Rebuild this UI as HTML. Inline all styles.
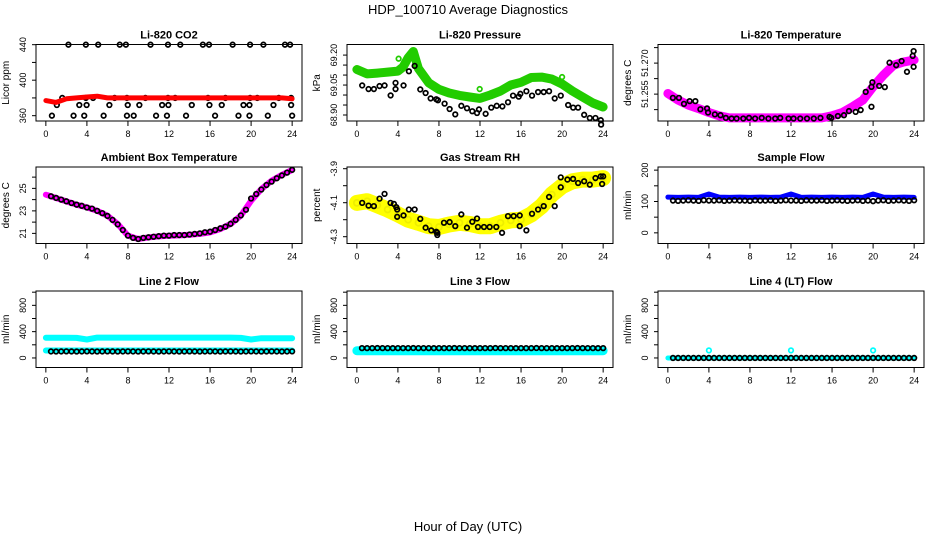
<!DOCTYPE html>
<html><head><meta charset="utf-8">
<style>
body{margin:0;background:#fff;}
svg{display:block;font-family:"Liberation Sans",sans-serif;}
</style></head>
<body>
<svg id="chart" width="936" height="540" viewBox="0 0 936 540">
<text x="468" y="14" font-size="13" text-anchor="middle">HDP_100710  Average Diagnostics</text>
<text x="468" y="531" font-size="13" text-anchor="middle">Hour of Day (UTC)</text>
</svg>
<script>
const HOURS = [0,1,2,3,4,5,6,7,8,9,10,11,12,13,14,15,16,17,18,19,20,21,22,23,24];
const HALF = [0.5,1,1.5,2,2.5,3,3.5,4,4.5,5,5.5,6,6.5,7,7.5,8,8.5,9,9.5,10,10.5,11,11.5,12,12.5,13,13.5,14,14.5,15,15.5,16,16.5,17,17.5,18,18.5,19,19.5,20,20.5,21,21.5,22,22.5,23,23.5,24];
const X_TICKS = [0,4,8,12,16,20,24];

// CO2
const co2Red = [377,375,379,380,381,382,380,380,380,380,380,380,380,380,380,380,380,380,380,380,380,380,380,380,379];
const co2H440 = [2.2,3.9,5.1,7.2,7.8,10.2,11.9,13.1,15.3,15.9,18.2,19.9,21.2,23.3,23.8];
const co2H380 = [1.6,3.9,4.6,6.7,7.9,9.7,11.9,12.6,15.8,17.5,19.9,20.6,22.7,23.9];
const co2H372 = [1.07,3.26,3.97,6.19,7.98,9.11,11.33,11.94,14.22,15.94,17.14,19.26,19.84,22.18,23.9];
const co2H360 = [0.59,2.7,3.74,5.63,7.9,8.56,10.74,11.8,13.66,16.49,18.77,19.84,21.63,24.0];

// Pressure
const presHours = [0,1,2,3,4,4.5,5,5.5,6,7,8,9,10,11,12,13,14,15,16,17,18,19,20,21,22,23,24];
const presGreen = [69.128,69.106,69.11,69.115,69.12,69.14,69.187,69.218,69.133,69.061,69.028,69.01,68.998,68.99,68.983,69.0,69.02,69.05,69.064,69.088,69.09,69.08,69.055,69.02,68.99,68.96,68.94];
const presGreenOutH = [4.07,11.97,20.0];
const presGreenOutV = [69.182,69.03,69.09];
const presBlackH = [0.52,1.14,1.66,2.21,2.7,3.29,3.77,3.77,4.55,5.07,5.63,6.18,6.7,7.19,7.74,7.9,8.55,9.04,9.59,10.18,10.73,11.25,11.71,11.9,12.55,13.1,13.63,14.18,14.73,15.22,15.77,15.93,16.52,17.07,17.66,18.21,18.73,19.28,19.87,20.59,21.08,21.56,22.15,22.7,23.25,23.77,23.8];
const presBlackV = [69.048,69.03,69.03,69.045,69.048,68.998,69.061,69.03,69.048,69.119,69.146,69.028,69.01,68.983,68.979,68.974,68.957,68.93,68.903,68.946,68.934,68.919,68.91,68.928,68.906,68.937,68.946,68.943,68.964,68.997,68.992,69.006,69.019,68.997,69.015,69.015,69.019,68.983,68.997,68.95,68.937,68.937,68.901,68.885,68.885,68.874,68.852];

// Li-820 temperature
const tempMag = [51.2553,51.2521,51.2497,51.248,51.2461,51.2445,51.2435,51.2435,51.2435,51.2435,51.2435,51.2435,51.2435,51.2435,51.2435,51.2435,51.2445,51.2461,51.2489,51.2521,51.2586,51.2642,51.269,51.2706,51.2715];
const tempBlackH = [0.49,1.08,1.57,2.12,2.68,3.17,3.82,3.92,4.58,5.13,5.65,6.21,6.7,7.35,7.91,8.5,9.15,9.8,10.46,10.95,11.76,12.25,12.9,13.56,14.22,14.87,15.75,15.92,16.57,17.16,17.65,18.3,18.79,19.28,19.84,19.84,19.93,20.59,21.14,21.6,22.25,22.78,23.3,23.86,23.95,23.95];
const tempBlackV = [51.2532,51.2532,51.2503,51.2516,51.2516,51.2477,51.2481,51.2461,51.2452,51.2448,51.2435,51.2432,51.2432,51.2432,51.2435,51.2432,51.2435,51.2432,51.2432,51.2435,51.2432,51.2432,51.2432,51.2432,51.2432,51.2435,51.244,51.2435,51.2444,51.2448,51.2468,51.2464,51.2473,51.2561,51.2489,51.2585,51.2607,51.259,51.2584,51.2702,51.269,51.271,51.2658,51.2735,51.2758,51.2682];
const tempTicks = [51.2475,51.255,51.2625,51.27,51.2775];
const tempLabels = ["","51.255","","51.270",""];

// Ambient
const ambMag = [24.44,24.14,23.84,23.55,23.31,23.01,22.57,21.83,20.79,20.5,20.64,20.73,20.79,20.82,20.88,20.95,21.09,21.39,21.83,22.57,23.9,24.94,25.68,26.21,26.63];
const ambBlack = [24.3,24.15,24.0,23.85,23.7,23.55,23.45,23.3,23.2,23.0,22.8,22.55,22.2,21.8,21.3,20.8,20.6,20.5,20.6,20.65,20.7,20.75,20.8,20.8,20.85,20.85,20.85,20.9,20.95,21.0,21.1,21.15,21.3,21.45,21.6,21.85,22.2,22.6,23.1,24.1,24.5,24.9,25.3,25.6,25.9,26.15,26.4,26.65];

// Gas stream RH
const rhYellow = [-4.101,-4.091,-4.115,-4.14,-4.169,-4.2,-4.218,-4.238,-4.243,-4.228,-4.218,-4.225,-4.238,-4.238,-4.218,-4.204,-4.2,-4.169,-4.12,-4.052,-4.003,-3.974,-3.964,-3.964,-3.955];
const rhBlackH = [0.52,1.14,1.66,2.21,2.7,3.28,3.61,3.84,3.93,3.93,4.55,5.07,5.63,6.18,6.7,7.25,7.74,7.84,7.84,8.49,9.04,9.59,10.18,10.73,11.25,11.71,11.8,12.39,12.94,13.59,14.15,14.73,15.28,15.87,15.87,16.52,17.07,17.66,18.21,18.73,19.28,19.87,19.87,20.52,21.07,21.56,22.15,22.7,23.25,23.77,24.0,23.9];
const rhBlackV = [-4.101,-4.117,-4.12,-4.076,-4.048,-4.101,-4.107,-4.126,-4.14,-4.183,-4.175,-4.14,-4.14,-4.195,-4.247,-4.263,-4.271,-4.29,-4.277,-4.218,-4.214,-4.238,-4.169,-4.247,-4.212,-4.193,-4.243,-4.243,-4.243,-4.243,-4.277,-4.179,-4.179,-4.175,-4.238,-4.263,-4.165,-4.14,-4.12,-4.066,-4.12,-4.009,-3.951,-3.964,-3.96,-3.984,-3.974,-3.994,-3.955,-3.945,-3.945,-3.99];

// Sample flow
const sampleBlue = [114,113,114,113,124,114,113,114,113,114,113,114,124,113,114,113,114,113,114,113,124,114,113,114,113];
const sampleBlack = [103,102,103,104,103,102,104,103,103,104,102,103,104,103,103,102,104,103,103,104,102,103,104,103,103,102,104,103,103,104,102,103,104,103,102,103,104,102,103,101,103,104,102,103,104,103,102,104];

// Line 2 flow
const l2Upper = [306,306,306,305,280,310,310,310,310,310,310,310,310,310,310,310,310,310,310,305,280,300,300,300,300];
const l2Lower = [114,114,114,114,114,114,114,114,114,114,114,114,114,114,114,114,114,114,114,114,114,114,114,114,114];
const l2Black = [99,98,99,100,99,98,99,100,99,98,99,100,99,98,99,100,99,98,99,100,99,98,99,100,99,98,99,100,99,98,99,100,99,98,99,100,99,98,99,100,99,98,99,100,99,98,99,100];

// Line 3 flow
const l3Cyan = [110,110,110,110,110,110,110,110,110,110,110,110,110,110,110,110,110,110,110,110,110,110,110,110,110];
const l3Black = [150,150,150,151,150,150,149,150,150,150,151,150,150,150,149,150,150,150,151,150,150,150,149,150,150,150,151,150,150,150,149,150,150,150,151,150,150,150,149,150,150,150,151,150,150,150,149,150];

// Line 4 flow
const l4Cyan = [0,0,0,0,0,0,0,0,0,0,0,0,0,0,0,0,0,0,0,0,0,0,0,0,0];
const l4SpikeH = [4,12,20];
const l4SpikeV = [115,115,115];
const l4Black = [0,0,0,0,0,0,0,0,0,0,0,0,0,0,0,0,0,0,0,0,0,0,0,0,0,0,0,0,0,0,0,0,0,0,0,0,0,0,0,0,0,0,0,0,0,0,0,0];

const svg = document.getElementById('chart');
const NS = 'http://www.w3.org/2000/svg';
const COLS = [36,347,658], ROWS = [44.5,167,291], PW = 266, PH = 76.5;

function mk(tag, attrs, parent){
  const e = document.createElementNS(NS, tag);
  for (const k in attrs) e.setAttribute(k, attrs[k]);
  (parent||svg).appendChild(e);
  return e;
}

function panel(col,row,name,title,ylab,ymin,ymax,yticks,ylabels){
  const L = COLS[col], T = ROWS[row];
  const g = mk('g',{});
  
  
  const xs = h => L + (h + 0.96) / 25.92 * PW;
  const ys = v => T + PH - (v - ymin) / (ymax - ymin) * PH;
  const box = mk('rect',{x:L,y:T,width:PW,height:PH,fill:'none',stroke:'#000','stroke-width':1},g);
  
  
  const tt = mk('text',{x:L+PW/2,y:T-6,'font-size':11,'font-weight':'bold','text-anchor':'middle'},g);
  tt.textContent = title;
  
  
  const yl = mk('text',{x:0,y:0,'font-size':10,'text-anchor':'middle',transform:`translate(${L-27},${T+PH/2}) rotate(-90)`},g);
  yl.textContent = ylab;
  
  
  X_TICKS.forEach(h=>{
    const x = xs(h);
    mk('line',{x1:x,x2:x,y1:T+PH,y2:T+PH+5,stroke:'#000'},g);
    const t = mk('text',{x:x,y:T+PH+16,'font-size':9,'text-anchor':'middle'},g);
    t.textContent = h;
    
    
  });
  yticks.forEach((v,i)=>{
    const y = ys(v);
    mk('line',{x1:L-4,x2:L,y1:y,y2:y,stroke:'#000'},g);
    if (ylabels[i] !== ''){
      const t = mk('text',{x:0,y:0,'font-size':9,'text-anchor':'middle',transform:`translate(${L-10},${y}) rotate(-90)`},g);
      t.textContent = ylabels[i];
      
      
    }
  });
  return {g,xs,ys};
}

function band(p,hours,vals,color,w,name){
  const pts = hours.map((h,i)=>p.xs(h).toFixed(1)+','+p.ys(vals[i]).toFixed(1)).join(' ');
  const pl = mk('polyline',{points:pts,fill:'none',stroke:color,'stroke-width':w,'stroke-linecap':'round','stroke-linejoin':'round'},p.g);
  
  
}
function pts(p,hours,vals,color,name,r){
  hours.forEach((h,i)=>{
    const c = mk('circle',{cx:p.xs(h),cy:p.ys(vals[i]),r:r||2.3,fill:'none',stroke:color,'stroke-width':1.7},p.g);
    
    
  });
}
function constPts(p,hours,v,color,name){
  hours.forEach(h=>{
    const c = mk('circle',{cx:p.xs(h),cy:p.ys(v),r:2.3,fill:'none',stroke:color,'stroke-width':1.7},p.g);
    
    
  });
}

// Panel 1 CO2
let p = panel(0,0,'co2','Li-820 CO2','Licor ppm',354,440.2,[360,380,400,420,440],['360','','400','','440']);
constPts(p,co2H440,440,'#000','co2-point');
constPts(p,co2H380,380,'#000','co2-point');
constPts(p,co2H372,372,'#000','co2-point');
constPts(p,co2H360,360,'#000','co2-point');
band(p,HOURS,co2Red,'#ff0000',5,'co2-average-series');

// Panel 2 Pressure
p = panel(1,0,'pressure','Li-820 Pressure','kPa',68.87,69.253,[68.90,68.95,69.00,69.05,69.10,69.15,69.20],['68.90','','','69.05','','','69.20']);
band(p,presHours,presGreen,'#22cc00',9,'pressure-average-series');
pts(p,presHours,presGreen,'#22cc00','pressure-average-point');
pts(p,presGreenOutH,presGreenOutV,'#22cc00','pressure-average-point');
pts(p,presBlackH,presBlackV,'#000','pressure-point');

// Panel 3 Temperature
p = panel(2,0,'li820-temperature','Li-820 Temperature','degrees C',51.242,51.279,tempTicks,tempLabels);
band(p,HOURS,tempMag,'#ff00ff',9,'temperature-average-series');
pts(p,HOURS,tempMag,'#ff00ff','temperature-average-point',3);
pts(p,tempBlackH,tempBlackV,'#000','temperature-point');

// Panel 4 Ambient
p = panel(0,1,'ambient-temperature','Ambient Box Temperature','degrees C',20.1,26.9,[21,22,23,24,25,26],['21','','23','','25','']);
band(p,HOURS,ambMag,'#ff00ff',6,'ambient-average-series');
pts(p,HALF,ambBlack,'#000','ambient-point');

// Panel 5 RH
p = panel(1,1,'gas-stream-rh','Gas Stream RH','percent',-4.34,-3.89,[-4.3,-4.2,-4.1,-4.0,-3.9],['-4.3','','-4.1','','-3.9']);
band(p,HOURS,rhYellow,'#ffff00',16,'rh-average-series');
pts(p,HOURS,rhYellow,'#eeee00','rh-average-point',3);
pts(p,rhBlackH,rhBlackV,'#000','rh-point');

// Panel 6 Sample flow
p = panel(2,1,'sample-flow','Sample Flow','ml/min',-34,210,[0,50,100,150,200],['0','','100','','200']);
band(p,HOURS,sampleBlue,'#0000ff',5,'sample-flow-average-series');
pts(p,HALF,sampleBlack,'#000','sample-flow-point');

// Panel 7 Line 2
const flowTicks = [0,200,400,600,800,1000], flowLabels = ['0','','400','','800',''];
p = panel(0,2,'line2-flow','Line 2 Flow','ml/min',-145,1018,flowTicks,flowLabels);
band(p,HOURS,l2Upper,'#00ffff',6,'line2-upper-series');
band(p,HOURS,l2Lower,'#00ffff',6,'line2-lower-series');
pts(p,HALF,l2Black,'#000','line2-point');

// Panel 8 Line 3
p = panel(1,2,'line3-flow','Line 3 Flow','ml/min',-145,1018,flowTicks,flowLabels);
band(p,HOURS,l3Cyan,'#00ffff',9,'line3-average-series');
pts(p,HALF,l3Black,'#000','line3-point');

// Panel 9 Line 4
p = panel(2,2,'line4-flow','Line 4 (LT) Flow','ml/min',-145,1018,flowTicks,flowLabels);
band(p,HOURS,l4Cyan,'#00ffff',5,'line4-average-series');
pts(p,l4SpikeH,l4SpikeV,'#00ffff','line4-spike-point');
pts(p,HALF,l4Black,'#000','line4-point');
</script>
</body></html>
